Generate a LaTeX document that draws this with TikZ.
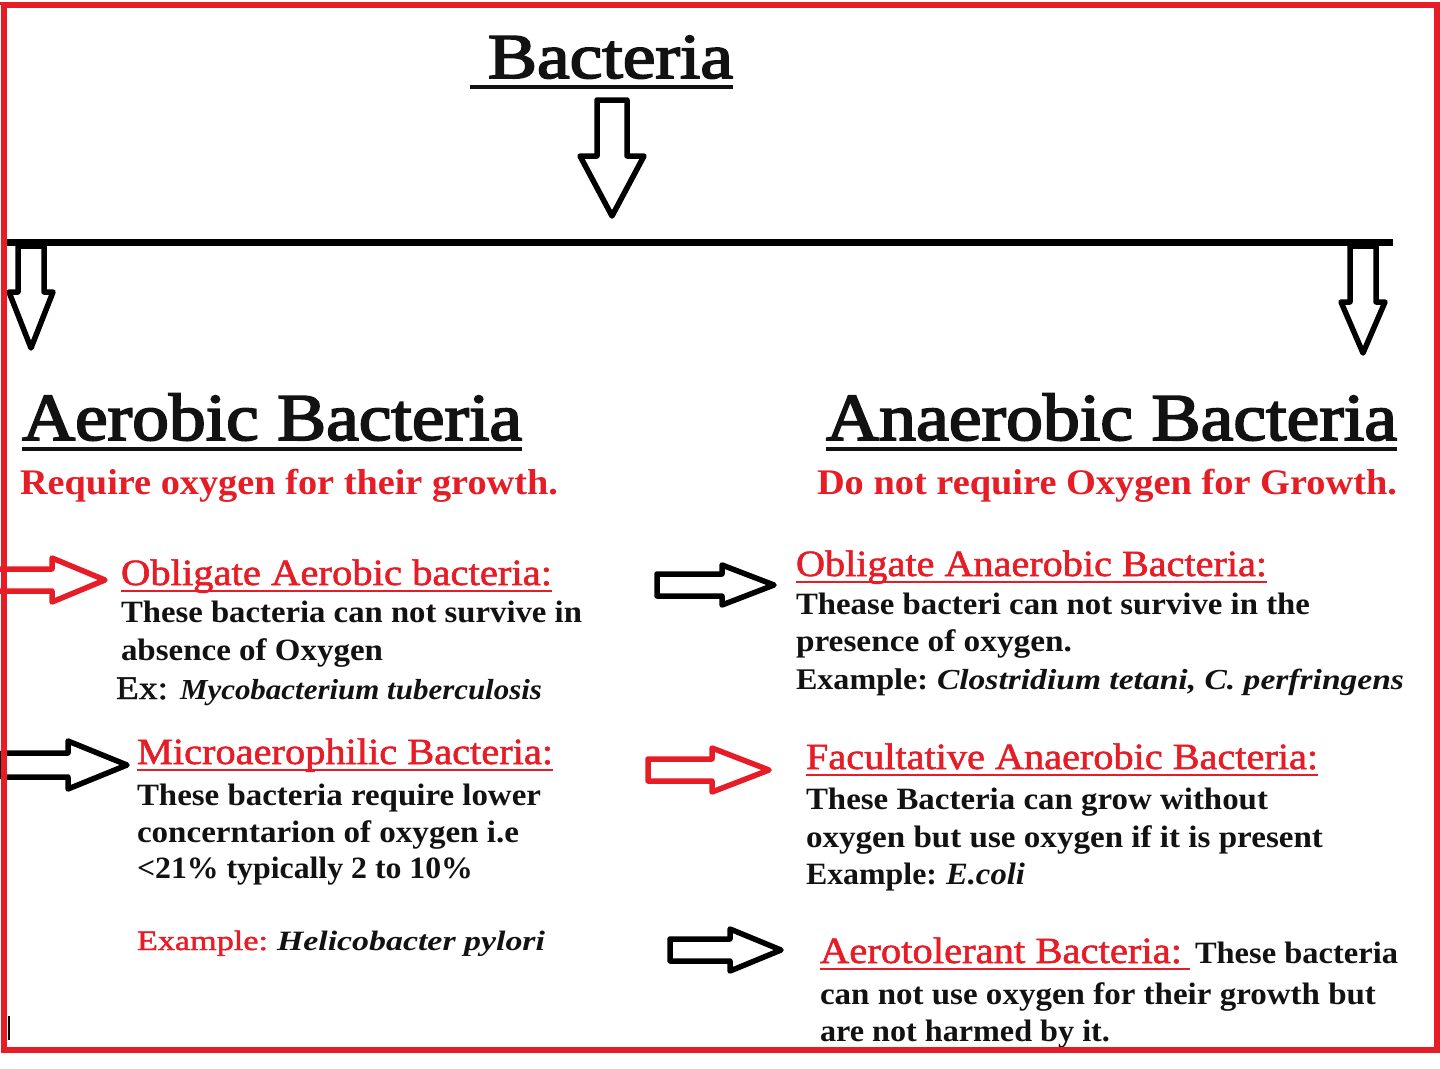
\documentclass[tikz,border=0pt]{standalone}
\usepackage{fontspec}
\usepackage{graphicx}
\setmainfont{Liberation Serif}
\newfontfamily\medfont[FakeBold=2.6]{Liberation Serif}
\newfontfamily\semifont[FakeBold=1.4]{Liberation Serif}
\definecolor{bred}{RGB}{230,28,38}
\definecolor{tblack}{RGB}{18,18,18}
\newsavebox\fitbox
\newcommand\fitto[2]{\sbox\fitbox{#2}\pgfmathsetmacro\fitsc{#1/\wd\fitbox}\scalebox{\fitsc}[1]{\usebox\fitbox}}
\newcommand\DArrow[6]{\draw[blockarrow] (#1-#4,#2) -- (#1+#4,#2) -- (#1+#4,#6) -- (#1+#5,#6) -- (#1,#3) -- (#1-#5,#6) -- (#1-#4,#6) -- cycle;}
\newcommand\RArrow[7][black]{\draw[blockarrow,draw=#1] (#2,#4-#5) -- (#7,#4-#5) -- (#7,#4-#6) -- (#3,#4) -- (#7,#4+#6) -- (#7,#4+#5) -- (#2,#4+#5) -- cycle;}
\tikzset{
  txt/.style={inner sep=0pt, outer sep=0pt, anchor=base west, text=tblack},
  body/.style={txt, font=\bfseries\fontsize{31}{31}\selectfont},
  bodyit/.style={txt, font=\bfseries\itshape\fontsize{31}{31}\selectfont},
  sect/.style={txt, text=bred, font=\semifont\fontsize{37}{37}\selectfont},
  subt/.style={txt, text=bred, font=\bfseries\fontsize{36}{36}\selectfont},
  head/.style={txt, font=\medfont\fontsize{67}{67}\selectfont},
  blockarrow/.style={draw=black, fill=white, line width=5.5pt, line join=round},
  redul/.style={draw=bred, line width=2.5pt},
  blackul/.style={draw=tblack, line width=3.5pt},
}
\begin{document}
\begin{tikzpicture}[x=1pt,y=-1pt]
\useasboundingbox (0,0) rectangle (1440,1068);
\fill[white] (0,0) rectangle (1440,1068);

% title
\node[head, font=\medfont\fontsize{64}{64}\selectfont] (title) at (488,78) {\fitto{245}{Bacteria}};
\draw[blackul] (470,87) -- (title.base east |- 0,87);
\DArrow{612}{100}{216}{15}{32}{156}

% bar
\coordinate (barL) at (6,242);
\coordinate (barR) at (1393,242);
\draw[line width=7pt] (barL) -- (barR);
\DArrow{31}{246}{348}{13}{22}{292}
\DArrow{1363}{246}{353}{13}{22}{302}

% headers
\node[head] (aer) at (22,440) {\fitto{500}{Aerobic Bacteria}};
\draw[blackul] ([yshift=-9pt]aer.base west) -- ([yshift=-9pt]aer.base east);
\node[head] (anaer) at (826,440) {\fitto{571}{Anaerobic Bacteria}};
\draw[blackul] ([yshift=-9pt]anaer.base west) -- ([yshift=-9pt]anaer.base east);
\node[subt] (aersub) at (20,494) {\fitto{538}{Require oxygen for their growth.}};
\node[subt] (anaersub) at (817,494) {\fitto{580}{Do not require Oxygen for Growth.}};

% left block 1
\RArrow[bred]{-10}{105}{580}{11}{22}{52}
\node[sect] (oa) at (121,585) {\fitto{431}{Obligate Aerobic bacteria:}};
\draw[redul] ([yshift=-6pt]oa.base west) -- ([yshift=-6pt]oa.base east);
\node[body] (oa1) at (121,622) {\fitto{461}{These bacteria can not survive in}};
\node[body] (oa2) at (121,660) {\fitto{262}{absence of Oxygen}};
\node[txt, font=\semifont\fontsize{33}{33}\selectfont] (oa3) at (116,699) {\fitto{52}{Ex:}};
\node[bodyit, font=\bfseries\itshape\fontsize{29}{29}\selectfont] (oa4) at (180,699) {\fitto{362}{Mycobacterium tuberculosis}};

% left block 2
\RArrow{2}{127}{765}{12}{24}{68}
\node[sect] (mi) at (137,764) {\fitto{416}{Microaerophilic Bacteria:}};
\draw[redul] ([yshift=-6pt]mi.base west) -- ([yshift=-6pt]mi.base east);
\node[body] (mi1) at (137,805) {\fitto{404}{These bacteria require lower}};
\node[body] (mi2) at (137,842) {\fitto{382}{concerntarion of oxygen i.e}};
\node[body] (mi3) at (137,878) {\fitto{336}{<21\% typically 2 to 10\%}};
\node[txt, text=bred, font=\semifont\fontsize{28}{28}\selectfont] (mi4) at (137,950) {\fitto{131}{Example:}};
\node[bodyit, font=\bfseries\itshape\fontsize{28}{28}\selectfont] (mi5) at (277,950) {\fitto{268}{Helicobacter pylori}};

% right block 1
\RArrow{657}{774}{585}{11}{20}{722}
\node[sect] (ob) at (796,576) {\fitto{471}{Obligate Anaerobic Bacteria:}};
\draw[redul] ([yshift=-6pt]ob.base west) -- ([yshift=-6pt]ob.base east);
\node[body] (ob1) at (796,614) {\fitto{514}{Thease bacteri can not survive in the}};
\node[body] (ob2) at (796,651) {\fitto{276}{presence of oxygen.}};
\node[body, font=\bfseries\fontsize{30}{30}\selectfont] (ob3) at (796,689) {\fitto{132}{Example:}};
\node[bodyit, font=\bfseries\itshape\fontsize{29}{29}\selectfont] (ob4) at (937,689) {\fitto{467}{Clostridium tetani, C. perfringens}};

% right block 2
\RArrow[bred]{648}{769}{770}{11}{22}{712}
\node[sect] (fa) at (806,769) {\fitto{512}{Facultative Anaerobic Bacteria:}};
\draw[redul] ([yshift=-6pt]fa.base west) -- ([yshift=-6pt]fa.base east);
\node[body] (fa1) at (806,809) {\fitto{462}{These Bacteria can grow without}};
\node[body] (fa2) at (806,847) {\fitto{517}{oxygen but use oxygen if it is present}};
\node[body] (fa3) at (806,884) {\fitto{131}{Example:}};
\node[bodyit] (fa4) at (946,884) {\fitto{79}{E.coli}};

% right block 3
\RArrow{670}{781}{950}{11}{21}{730}
\node[sect] (at) at (820,963) {\fitto{362}{Aerotolerant Bacteria:}};
\draw[redul] ([yshift=-6pt]at.base west) -- ([yshift=-6pt,xshift=8pt]at.base east);
\node[body] (at1) at (1195,963) {\fitto{203}{These bacteria}};
\node[body] (at2) at (820,1004) {\fitto{556}{can not use oxygen for their growth but}};
\node[body] (at3) at (820,1041) {\fitto{290}{are not harmed by it.}};

% small tick
\draw[line width=2pt] (9,1016) -- (9,1040);

% red frame
\draw[bred, line width=6pt] (4,5) rectangle (1437,1050);
\draw[bred, line width=3pt] (0,3) -- (1440,3);
\end{tikzpicture}
\end{document}
